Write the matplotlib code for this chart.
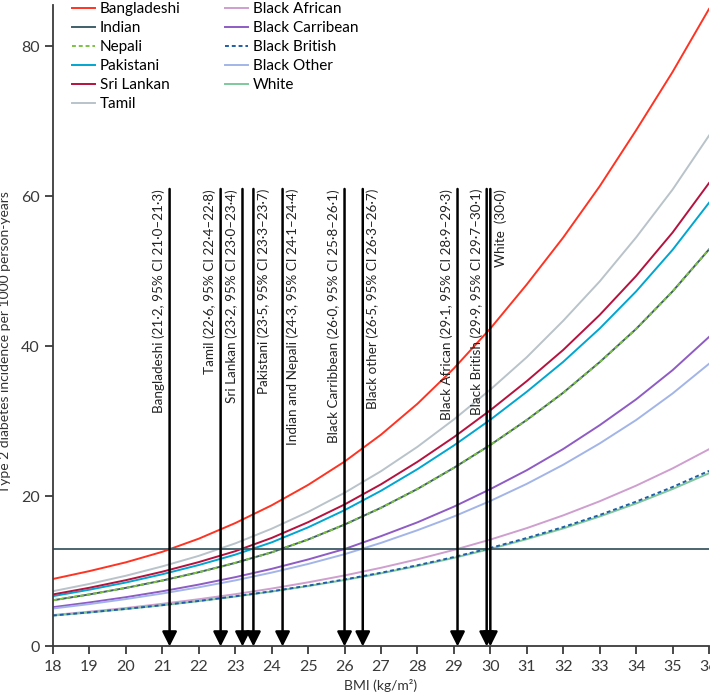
import matplotlib
matplotlib.use("Agg")
import matplotlib.pyplot as plt

plt.rcParams['font.family'] = ['Lato', 'DejaVu Sans']

# BMI grid and incidence (per 1000 person-years)
bmi = [18, 19, 20, 21, 22, 23, 24, 25, 26, 27, 28, 29, 30, 31, 32, 33, 34, 35, 36]

bangladeshi = [9.00, 10.05, 11.22, 12.62, 14.37, 16.45, 18.82, 21.54, 24.65, 28.24,
               32.36, 37.07, 42.39, 48.27, 54.53, 61.36, 68.83, 76.60, 85.00]
indian = [6.16, 6.94, 7.81, 8.79, 9.90, 11.14, 12.55, 14.26, 16.25, 18.49,
          21.00, 23.82, 26.87, 30.20, 33.83, 37.91, 42.34, 47.34, 52.94]
nepali = [6.16, 6.94, 7.81, 8.79, 9.90, 11.14, 12.55, 14.26, 16.25, 18.49,
          21.00, 23.82, 26.87, 30.20, 33.83, 37.91, 42.34, 47.34, 52.94]
pakistani = [6.71, 7.57, 8.53, 9.63, 10.86, 12.24, 13.88, 15.88, 18.17, 20.76,
             23.64, 26.80, 30.23, 33.96, 37.95, 42.39, 47.34, 52.88, 59.16]
sri_lankan = [6.94, 7.83, 8.84, 9.97, 11.25, 12.70, 14.47, 16.57, 18.93, 21.62,
              24.62, 27.91, 31.50, 35.38, 39.54, 44.20, 49.40, 55.19, 61.79]
tamil = [7.37, 8.34, 9.43, 10.68, 12.08, 13.74, 15.70, 17.94, 20.49, 23.37,
         26.62, 30.27, 34.25, 38.57, 43.43, 48.67, 54.54, 60.92, 68.12]
black_african = [4.19, 4.64, 5.13, 5.69, 6.30, 6.97, 7.72, 8.55, 9.47, 10.49,
                 11.62, 12.87, 14.25, 15.78, 17.48, 19.36, 21.44, 23.74, 26.30]
black_carribean = [5.24, 5.87, 6.57, 7.36, 8.25, 9.24, 10.35, 11.60, 12.99, 14.71,
                   16.55, 18.64, 20.98, 23.50, 26.33, 29.50, 32.95, 36.84, 41.27]
black_british = [4.13, 4.55, 5.01, 5.51, 6.07, 6.69, 7.36, 8.11, 8.93, 9.83,
                 10.83, 11.92, 13.13, 14.46, 15.92, 17.53, 19.31, 21.26, 23.41]
black_other = [5.06, 5.65, 6.32, 7.06, 7.89, 8.81, 9.85, 11.00, 12.30, 13.81,
               15.50, 17.33, 19.40, 21.68, 24.23, 27.07, 30.19, 33.73, 37.69]
white = [4.12, 4.53, 4.99, 5.49, 6.04, 6.65, 7.32, 8.05, 8.86, 9.75,
         10.73, 11.81, 13.00, 14.31, 15.74, 17.33, 19.07, 20.99, 23.10]

# incidence in White people at BMI 30
threshold = 13.0

# equivalent BMI cutoffs, their labels and which side of the arrow the label sits
cutoffs = [21.2, 22.6, 23.2, 23.5, 24.3, 26.0, 26.5, 29.1, 29.9, 30.0]
cutoff_labels = [
    "Bangladeshi (21·2, 95% CI 21·0–21·3)",
    "Tamil (22·6, 95% CI 22·4–22·8)",
    "Sri Lankan (23·2, 95% CI 23·0–23·4)",
    "Pakistani (23·5, 95% CI 23·3–23·7)",
    "Indian and Nepali (24·3, 95% CI 24·1–24·4)",
    "Black Carribbean (26·0, 95% CI 25·8–26·1)",
    "Black other (26·5, 95% CI 26·3–26·7)",
    "Black African (29·1, 95% CI 28·9–29·3)",
    "Black British (29·9, 95% CI 29·7–30·1)",
    "White  (30·0)",
]
label_side = ["L", "L", "L", "R", "R", "L", "R", "L", "L", "R"]

series = [
    ("Bangladeshi", bangladeshi, "#ff3322", "-"),
    ("Indian", indian, "#3f5f69", "-"),
    ("Nepali", nepali, "#7cc242", (0, (2, 1.5))),
    ("Pakistani", pakistani, "#00a5d0", "-"),
    ("Sri Lankan", sri_lankan, "#b5123e", "-"),
    ("Tamil", tamil, "#b9c3ca", "-"),
    ("Black African", black_african, "#cf9fcf", "-"),
    ("Black Carribean", black_carribean, "#8e5cc4", "-"),
    ("Black British", black_british, "#1f5ea8", (0, (2, 1.5))),
    ("Black Other", black_other, "#a3b5e8", "-"),
    ("White", white, "#7fc89c", "-"),
]

fig = plt.figure(figsize=(7.1, 6.97), dpi=100)
ax = fig.add_axes([0.0746, 0.0725, 0.924, 0.92])

# solid ones first so the dashed ones sit on top
order = [0, 1, 3, 4, 5, 6, 7, 9, 10, 2, 8]
handles = {}
for i in order:
    name, vals, col, ls = series[i]
    ln, = ax.plot(bmi, vals, color=col, linestyle=ls, lw=1.4, label=name)
    handles[i] = ln

ax.axhline(threshold, color="#4a656e", lw=1.4)

for b, lab, side in zip(cutoffs, cutoff_labels, label_side):
    ax.annotate("", xy=(b, 0), xytext=(b, 61),
                arrowprops=dict(arrowstyle="-|>", color="black", lw=1.8,
                                mutation_scale=22, shrinkA=0, shrinkB=0))
    if side == "R":
        ax.annotate(lab, xy=(b, 61), xytext=(3, 0), textcoords="offset points",
                    rotation=90, ha="left", va="top", fontsize=9.7, color="#222222")
    else:
        ax.annotate(lab, xy=(b, 61), xytext=(-3, 0), textcoords="offset points",
                    rotation=90, ha="right", va="top", fontsize=9.7, color="#222222")

ax.set_xlim(18, 36)
ax.set_ylim(0, 85.5)
ax.set_xticks(range(18, 37))
ax.set_yticks([0, 20, 40, 60, 80])

for s in ["top", "right"]:
    ax.spines[s].set_visible(False)
for s in ["left", "bottom"]:
    ax.spines[s].set_color("#3a3a3a")
    ax.spines[s].set_linewidth(1.3)
ax.tick_params(colors="#3a3a3a", width=1.3, length=6, labelsize=11.5)

ax.set_xlabel("BMI (kg/m²)", fontsize=10, color="#333333", labelpad=4)
ax.set_ylabel("Type 2 diabetes incidence per 1000 person-years", fontsize=10,
              color="#333333")
ax.yaxis.set_label_coords(-0.064, 0.475)

ax.legend([handles[i] for i in range(11)], [s[0] for s in series],
          ncol=2, loc="upper left", bbox_to_anchor=(0.029, 1.005), frameon=False,
          fontsize=11, handlelength=1.5, handletextpad=0.33, labelspacing=0.33,
          columnspacing=2.9, borderpad=0, borderaxespad=0)

fig.savefig("out.png", dpi=100)
